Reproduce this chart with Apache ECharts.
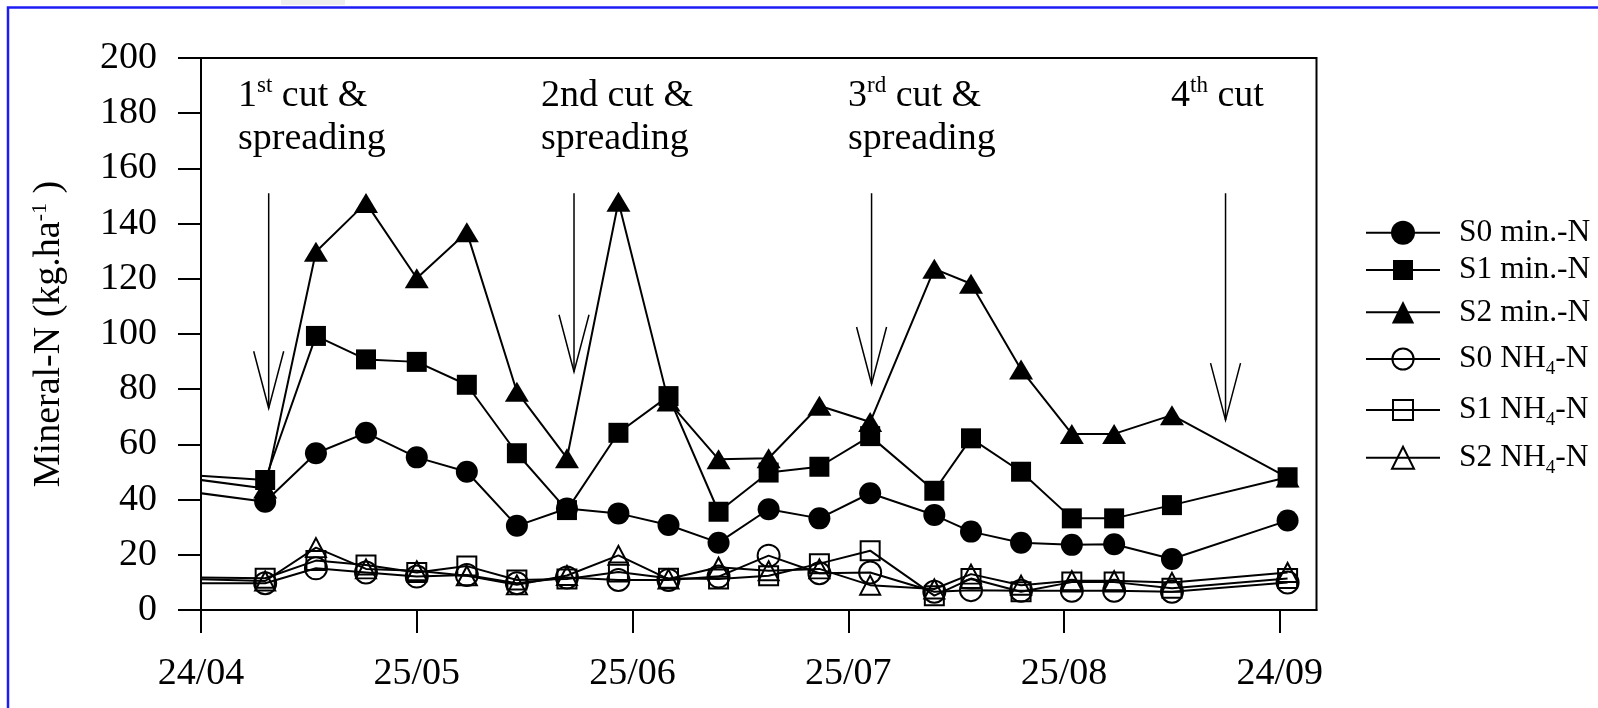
<!DOCTYPE html>
<html>
<head>
<meta charset="utf-8">
<title>Mineral-N</title>
<script src="https://cdn.jsdelivr.net/npm/echarts@6/dist/echarts.min.js"></script>
<style>
	html, body { margin: 0; padding: 0; background: #fff; }
	#chart { width: 1598px; height: 708px; }
</style>
</head>
<body>
<div id="chart"></div>
<script>
	// sampling days counted from 24/04 (the first one lies before the axis and is clipped)
	var sampleDays = [-10, 9.1, 16.3, 23.4, 30.6, 37.7, 44.8, 51.9, 59.2, 66.3, 73.4, 80.5, 87.7, 94.9, 104.0, 109.2, 116.3, 123.5, 129.5, 137.7, 154.1];

	var s0Min = [45.7, 39.2, 56.8, 64.2, 55.3, 50.1, 30.5, 36.8, 35.0, 30.8, 24.4, 36.5, 33.2, 42.3, 34.4, 28.4, 24.4, 23.6, 23.8, 18.5, 32.4];
	var s1Min = [50.2, 47.1, 99.3, 90.8, 89.9, 81.6, 56.8, 36.2, 64.2, 77.5, 35.6, 49.8, 51.9, 63.0, 43.2, 62.2, 50.1, 33.2, 33.2, 38.0, 48.1];
	var s2Min = [50.5, 44.0, 129.8, 147.5, 120.2, 136.9, 79.1, 55.0, 147.9, 75.5, 54.6, 55.0, 74.0, 68.1, 123.6, 118.2, 87.1, 63.8, 63.8, 70.6, 48.0];
	var s0Nh4 = [9.7, 9.7, 15.1, 13.6, 12.1, 12.7, 9.7, 11.8, 10.9, 10.9, 12.1, 19.7, 13.3, 13.6, 6.6, 7.2, 7.0, 7.0, 7.0, 6.6, 10.0];
	var s1Nh4 = [12.1, 11.5, 17.9, 16.3, 13.6, 15.9, 10.9, 11.2, 13.8, 11.5, 11.2, 12.4, 16.8, 21.5, 5.2, 11.4, 6.6, 10.1, 10.1, 7.9, 11.4];
	var s2Nh4 = [11.8, 10.5, 22.6, 14.9, 14.2, 12.4, 9.1, 12.5, 19.8, 11.2, 15.5, 14.2, 14.9, 9.0, 7.6, 13.0, 9.0, 10.6, 10.6, 10.0, 13.6];

	var tickDays = [0, 30.6, 61.2, 91.8, 122.4, 153];
	var tickLabels = ['24/04', '25/05', '25/06', '25/07', '25/08', '24/09'];

	// cut / spreading arrows: day, top of the shaft and tip (kg/ha)
	var cutDays = [9.6, 52.9, 95.1, 145.3];
	var cutArrowTop = [151, 151, 151, 151];
	var cutArrowTip = [73.1, 86.3, 81.9, 68.8];
	var cutLabels = ['1{sup|st} cut &\nspreading', '2nd cut &\nspreading', '3{sup|rd} cut &\nspreading', '4{sup|th} cut'];
	var cutLabelX = [238, 541, 848, 1171];

	var legendRows = [232.7, 270, 312.3, 359, 410, 457.7];

	var FONT = 'Liberation Serif';

	var seriesDefs = [
		{name: 'S0 min.-N', values: s0Min, symbol: 'circle', size: 22, filled: true, legendH: 30},
		{name: 'S1 min.-N', values: s1Min, symbol: 'rect', size: 20, filled: true, legendH: 25},
		{name: 'S2 min.-N', values: s2Min, symbol: 'triangle', size: [24, 20], filled: true, legendH: 28},
		{name: 'S0 NH4-N', values: s0Nh4, symbol: 'circle', size: 22, filled: false, legendH: 26.5},
		{name: 'S1 NH4-N', values: s1Nh4, symbol: 'rect', size: 19, filled: false, legendH: 25},
		{name: 'S2 NH4-N', values: s2Nh4, symbol: 'triangle', size: [20, 19], filled: false, legendH: 27.5}
	];

	function markerStyle(def) {
		return def.filled
			? {color: '#000', borderWidth: 0}
			: {color: 'rgba(0,0,0,0)', borderColor: '#000', borderWidth: 2};
	}

	// draw order: NH4 first, then S2, S1, S0 on top
	var drawOrder = [5, 4, 3, 2, 1, 0];
	var lineSeries = drawOrder.map(function (k) {
		var def = seriesDefs[k];
		return {
			type: 'line',
			name: def.name,
			data: sampleDays.map(function (d, i) { return [d, def.values[i]]; }),
			symbol: def.symbol,
			symbolSize: def.size,
			showSymbol: true,
			showAllSymbol: true,
			clip: true,
			lineStyle: {color: '#000', width: 2},
			itemStyle: markerStyle(def),
			emphasis: {disabled: true}
		};
	});

	var arrowSeries = {
		type: 'custom',
		name: 'cuts',
		silent: true,
		clip: false,
		data: cutDays.map(function (d, i) { return [d, cutArrowTop[i], cutArrowTip[i]]; }),
		renderItem: function (params, api) {
			var top = api.coord([api.value(0), api.value(1)]);
			var tip = api.coord([api.value(0), api.value(2)]);
			var style = {stroke: '#000', lineWidth: 1.5, fill: null};
			return {
				type: 'group',
				children: [
					{type: 'line', shape: {x1: top[0], y1: top[1], x2: tip[0], y2: tip[1]}, style: style},
					{type: 'polyline', shape: {points: [[tip[0] - 15, tip[1] - 57], [tip[0], tip[1]], [tip[0] + 15, tip[1] - 57]]}, style: style}
				]
			};
		}
	};

	var legends = seriesDefs.map(function (def, i) {
		return {
			data: [def.name],
			left: 1365,
			top: legendRows[i] - 20,
			padding: 0,
			itemWidth: 74,
			itemHeight: def.legendH,
			selectedMode: false,
			formatter: function (n) { return n.replace('NH4', 'NH{sub|4}'); },
			itemStyle: markerStyle(def),
			lineStyle: {color: '#000', width: 2},
			textStyle: {
				fontFamily: FONT, fontSize: 31.5, lineHeight: 40, color: '#000',
				padding: [0, 0, 0, 14],
				rich: {
					sub: {fontFamily: FONT, fontSize: 19, lineHeight: 17, verticalAlign: 'bottom', color: '#000'}
				}
			}
		};
	});

	var cutTexts = cutLabels.map(function (t, i) {
		return {
			type: 'text',
			x: cutLabelX[i],
			y: 74,
			silent: true,
			style: {
				text: t,
				fill: '#000',
				fontFamily: FONT,
				fontSize: 38,
				lineHeight: 43.4,
				align: 'left',
				verticalAlign: 'top',
				rich: {
					sup: {fontFamily: FONT, fontSize: 23, lineHeight: 17, verticalAlign: 'top', fill: '#000'}
				}
			}
		};
	});

	var option = {
		animation: false,
		backgroundColor: '#fff',
		textStyle: {fontFamily: FONT, color: '#000'},
		grid: {
			left: 201, top: 58, right: 281.5, bottom: 98,
			show: true, borderColor: '#000', borderWidth: 2,
			containLabel: false, outerBoundsMode: 'none'
		},
		legend: legends,
		xAxis: {
			type: 'value',
			min: 0,
			max: 158.2,
			axisLine: {show: true, onZero: false, lineStyle: {color: '#000', width: 2}},
			axisTick: {show: true, inside: false, length: 23, customValues: tickDays, lineStyle: {color: '#000', width: 2}},
			axisLabel: {
				customValues: tickDays,
				margin: 45,
				fontFamily: FONT,
				fontSize: 38,
				color: '#000',
				formatter: function (v) {
					for (var i = 0; i < tickDays.length; i++) {
						if (Math.abs(tickDays[i] - v) < 0.01) return tickLabels[i];
					}
					return '';
				}
			},
			splitLine: {show: false}
		},
		yAxis: {
			type: 'value',
			min: 0,
			max: 200,
			interval: 20,
			name: 'Mineral-N (kg.ha{sup|-1} )',
			nameLocation: 'middle',
			nameGap: 132,
			nameTextStyle: {
				fontFamily: FONT, fontSize: 38, lineHeight: 40, color: '#000',
				rich: {
					sup: {fontFamily: FONT, fontSize: 22, lineHeight: 7, verticalAlign: 'top', color: '#000'}
				}
			},
			axisLine: {show: true, lineStyle: {color: '#000', width: 2}},
			axisTick: {show: true, inside: false, length: 23, lineStyle: {color: '#000', width: 2}},
			axisLabel: {margin: 44, fontFamily: FONT, fontSize: 38, color: '#000'},
			splitLine: {show: false}
		},
		graphic: [
			{type: 'polyline', silent: true, shape: {points: [[8, 708], [8, 7.5], [1598, 7.5]]}, style: {stroke: '#1c1cf5', lineWidth: 2.5, fill: null}},
			{type: 'rect', silent: true, shape: {x: 281, y: 0, width: 64, height: 5}, style: {fill: '#eeeeee'}}
		].concat(cutTexts),
		series: lineSeries.concat([arrowSeries])
	};

	var chart = echarts.init(document.getElementById('chart'));
	chart.setOption(option);
</script>
</body>
</html>
